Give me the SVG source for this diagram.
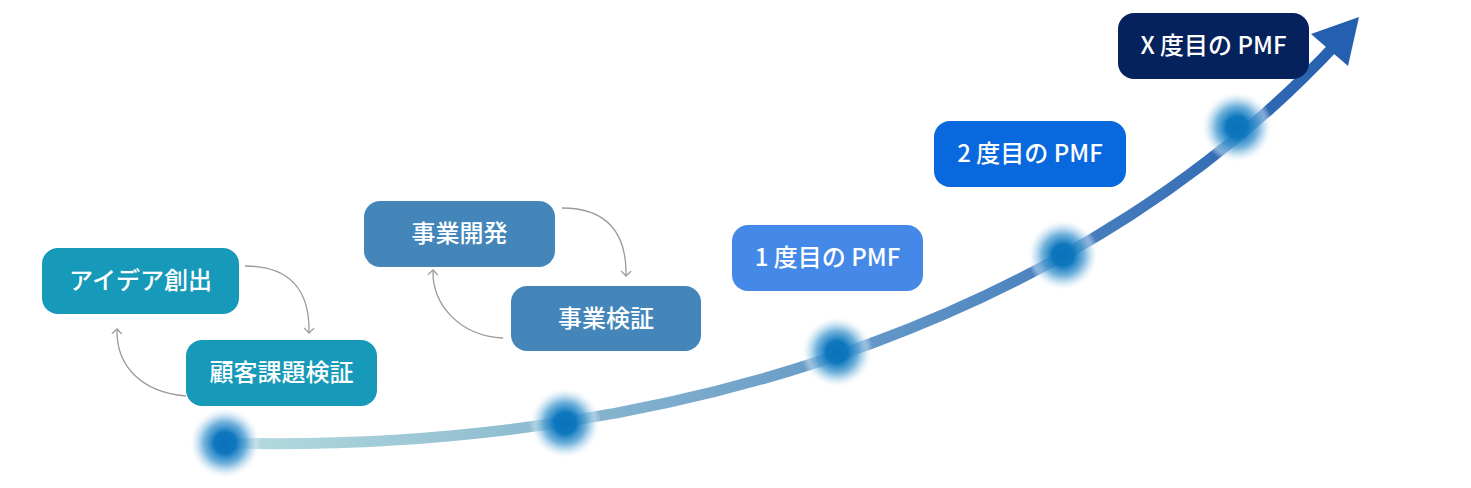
<svg xmlns="http://www.w3.org/2000/svg" width="1471" height="488" viewBox="0 0 1471 488">
  <style>
    .box text { font-family: "Noto Sans CJK JP", "Noto Sans", sans-serif; font-size: 24px; font-weight: 500; fill: #ffffff; text-anchor: middle; }
    .teal { fill: #1799b9; }
    .steel { fill: #4486ba; }
    .pmf1 { fill: #4589e8; }
    .pmf2 { fill: #0868de; }
    .pmfx { fill: #06225c; }
    .loop { fill: none; stroke: #9a9a9a; stroke-width: 1.3; marker-end: url(#open); }
  </style>
  <defs>
    <linearGradient id="lineGrad" gradientUnits="userSpaceOnUse" x1="225" y1="0" x2="1345" y2="0">
      <stop offset="0" stop-color="#b6dce0"/>
      <stop offset="0.3" stop-color="#8ab8cf"/>
      <stop offset="0.6" stop-color="#5f94c6"/>
      <stop offset="1" stop-color="#2560b0"/>
    </linearGradient>
    <radialGradient id="glow">
      <stop offset="0" stop-color="#0a72ba"/>
      <stop offset="0.3" stop-color="#0e77be"/>
      <stop offset="0.58" stop-color="#4f9fd3" stop-opacity="0.8"/>
      <stop offset="0.82" stop-color="#c6e0f1" stop-opacity="0.55"/>
      <stop offset="1" stop-color="#ffffff" stop-opacity="0"/>
    </radialGradient>
    <marker id="open" markerWidth="12" markerHeight="12" refX="6" refY="6" orient="auto" markerUnits="userSpaceOnUse">
      <path d="M1,1 L6,6 L1,11" fill="none" stroke="#9a9a9a" stroke-width="1.3"/>
    </marker>
  </defs>

  <g id="growth-curve">
    <path d="M225,443 C700,455 1100,300 1338,42" fill="none" stroke="url(#lineGrad)" stroke-width="11"/>
    <polygon points="1359,17 1311,34 1348,66" fill="#2560b0"/>
  </g>

  <g id="dots">
    <circle cx="225" cy="443" r="36" fill="url(#glow)"/>
    <circle cx="565" cy="423" r="36" fill="url(#glow)"/>
    <circle cx="837" cy="352" r="36" fill="url(#glow)"/>
    <circle cx="1063" cy="255" r="36" fill="url(#glow)"/>
    <circle cx="1237" cy="127" r="36" fill="url(#glow)"/>
  </g>

  <g id="connectors">
    <path class="loop" d="M245,266 C290,266 310,290 309,333"/>
    <path class="loop" d="M186,396 C140,392 116,365 117,329"/>
    <path class="loop" d="M562,208 C606,208 627,232 626,276"/>
    <path class="loop" d="M503,338 C460,336 432,305 433,270"/>
  </g>

  <g id="node-idea" class="box">
    <rect class="teal" x="42" y="248" width="197" height="66" rx="16"/>
    <text x="140.5" y="289">アイデア創出</text>
  </g>
  <g id="node-customer" class="box">
    <rect class="teal" x="186" y="340" width="191" height="66" rx="16"/>
    <text x="281.5" y="381">顧客課題検証</text>
  </g>
  <g id="node-bizdev" class="box">
    <rect class="steel" x="364" y="201" width="191" height="66" rx="16"/>
    <text x="459.5" y="242">事業開発</text>
  </g>
  <g id="node-bizval" class="box">
    <rect class="steel" x="511" y="286" width="190" height="65" rx="16"/>
    <text x="606" y="327">事業検証</text>
  </g>
  <g id="node-pmf1" class="box">
    <rect class="pmf1" x="732" y="225" width="191" height="66" rx="16"/>
    <text x="827.5" y="266">1 度目の PMF</text>
  </g>
  <g id="node-pmf2" class="box">
    <rect class="pmf2" x="934" y="121" width="192" height="66" rx="16"/>
    <text x="1030" y="162">2 度目の PMF</text>
  </g>
  <g id="node-pmfx" class="box">
    <rect class="pmfx" x="1118" y="13" width="191" height="66" rx="16"/>
    <text x="1213.5" y="54">X 度目の PMF</text>
  </g>
</svg>
